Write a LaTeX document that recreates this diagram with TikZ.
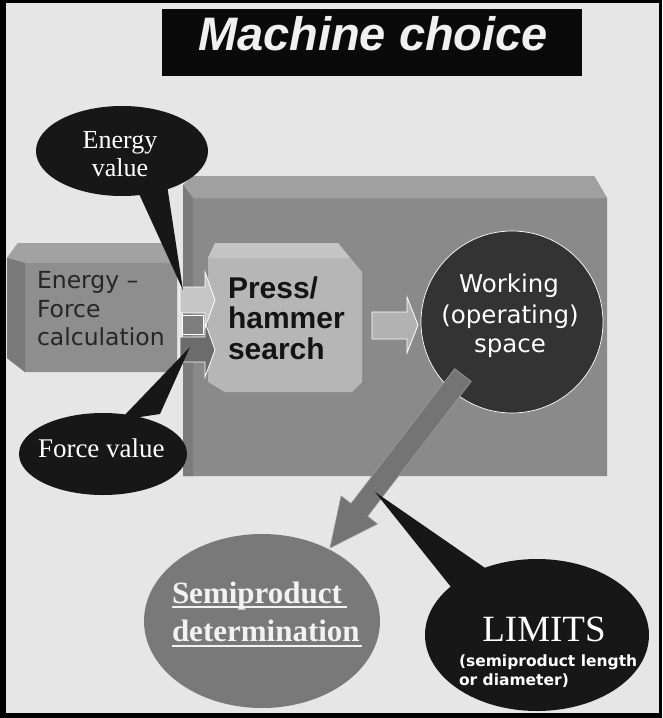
\documentclass[tikz,border=0pt]{standalone}
\usepackage{fontspec}
\setmainfont{Liberation Serif}
\newfontfamily\arialf{Liberation Sans}
\newfontfamily\verdf{DejaVu Sans}
\usetikzlibrary{shapes.geometric}
\definecolor{bg}{HTML}{E6E6E6}
\definecolor{titlebk}{HTML}{0A0A0A}
\definecolor{titletxt}{HTML}{F0F0F0}
\definecolor{boxfront}{HTML}{8A8A8A}
\definecolor{boxtop}{HTML}{A0A0A0}
\definecolor{boxleft}{HTML}{7B7B7B}
\definecolor{effront}{HTML}{8E8E8E}
\definecolor{eftop}{HTML}{A2A2A2}
\definecolor{efleft}{HTML}{7A7A7A}
\definecolor{eftext}{HTML}{262626}
\definecolor{pressfill}{HTML}{B6B6B6}
\definecolor{presstop}{HTML}{C4C4C4}
\definecolor{presstext}{HTML}{141414}
\definecolor{arrlight}{HTML}{C6C6C6}
\definecolor{arrdark}{HTML}{6C6C6C}
\definecolor{arrmid}{HTML}{7E7E7E}
\definecolor{arrwork}{HTML}{B2B2B2}
\definecolor{workfill}{HTML}{333333}
\definecolor{diagfill}{HTML}{747474}
\definecolor{diagline}{HTML}{9A9A9A}
\definecolor{semifill}{HTML}{797979}
\definecolor{callout}{HTML}{171717}
\definecolor{semitext}{HTML}{F2F2F2}
\tikzset{
  blockarrow/.style={draw=white, line width=0.8pt, line join=miter},
  calloutshape/.style={ellipse, fill=callout, inner sep=0pt},
  serifwhite/.style={text=white, font=\fontsize{26}{28}\selectfont},
}
\begin{document}
\begin{tikzpicture}[x=1pt,y=-1pt, every node/.style={inner sep=0pt, outer sep=0pt}]
\useasboundingbox (0,0) rectangle (662,718);
% frame and background
\fill[black] (0,0) rectangle (662,718);
\fill[bg] (6,3) rectangle (659,713);
% title
\node[fill=titlebk, minimum width=420pt, minimum height=67pt, anchor=north west] (titlebox) at (162,9) {};
\node[anchor=base, text=titletxt, font=\arialf\bfseries\itshape\fontsize{47}{50}\selectfont] (title) at (373,50) {Machine choice};
% big 3D box
\fill[boxfront] (183,185) -- (193,176) -- (594,176) -- (607,198) -- (607,476) -- (183,476) -- cycle;
\fill[boxtop] (183,185) -- (193,176) -- (594,176) -- (607,198) -- (193,198) -- cycle;
\fill[boxleft] (183,185) -- (193,198) -- (193,476) -- (183,476) -- cycle;
% Energy-Force box
\fill[effront] (7,258) -- (18,243) -- (167,243) -- (177,258) -- (177,372) -- (25,372) -- (7,358) -- cycle;
\fill[eftop] (7,258) -- (18,243) -- (167,243) -- (177,258) -- (177,263) -- (25,263) -- cycle;
\fill[efleft] (7,258) -- (25,263) -- (25,372) -- (7,358) -- cycle;
% Press box
\fill[pressfill] (208,258) -- (215,243) -- (338,243) -- (362,272) -- (362,382) -- (352,392) -- (225,392) -- (208,382) -- cycle;
\fill[presstop] (208,258) -- (215,243) -- (338,243) -- (350,258) -- cycle;
% small arrows between boxes
\filldraw[blockarrow, fill=arrdark] (180,337) -- (205,337) -- (205,322) -- (215,350) -- (205,377) -- (205,362) -- (180,362) -- cycle;
\filldraw[blockarrow, fill=arrlight] (180,287) -- (205,287) -- (205,272) -- (215,300) -- (205,328) -- (205,313) -- (180,313) -- cycle;
\filldraw[blockarrow, fill=arrmid] (182,315) rectangle (203,334);
% working space circle
\node[circle, minimum size=182pt, fill=workfill, draw=white, line width=0.7pt] (work) at (512,322) {};
% arrow press -> working
\filldraw[blockarrow, fill=arrwork] (372,312) -- (407,312) -- (407,297) -- (418,325) -- (407,353) -- (407,339) -- (372,339) -- cycle;
% diagonal arrow working -> semiproduct
\filldraw[fill=diagfill, draw=diagline, line width=0.6pt] (471.3,381.4) -- (454.7,368.6) -- (351.0,503.5) -- (341.1,495.9) -- (330,548) -- (377.5,523.9) -- (367.6,516.3) -- cycle;
% semiproduct ellipse
\node[ellipse, minimum width=236pt, minimum height=174pt, fill=semifill] (semi) at (262,621) {};
% callouts
\node[calloutshape, minimum width=172pt, minimum height=90pt] (ev) at (122,151) {};
\fill[callout] (135,185) -- (167,185) -- (183,290) -- cycle;
\node[calloutshape, minimum width=168pt, minimum height=82pt] (fv) at (103,454) {};
\fill[callout] (120,420) -- (160,414) -- (190,347) -- cycle;
\node[calloutshape, minimum width=224pt, minimum height=152pt] (lim) at (537,635) {};
\fill[callout] (455,592) -- (488,570) -- (375,492) -- cycle;
% texts
\node[anchor=base, serifwhite] (tenergy) at (120,148) {Energy};
\node[anchor=base, serifwhite] (tvalue) at (120,176) {value};
\node[anchor=base west, text=eftext, font=\verdf\fontsize{23.5}{28}\selectfont] (tef1) at (37,288) {Energy –};
\node[anchor=base west, text=eftext, font=\verdf\fontsize{23.5}{28}\selectfont] (tef2) at (37,317) {Force};
\node[anchor=base west, text=eftext, font=\verdf\fontsize{23.5}{28}\selectfont] (tef3) at (37,345) {calculation};
\node[anchor=base west, text=presstext, font=\arialf\bfseries\fontsize{30}{31}\selectfont] (tp1) at (228,298) {Press/};
\node[anchor=base west, text=presstext, font=\arialf\bfseries\fontsize{30}{31}\selectfont] (tp2) at (228,328) {hammer};
\node[anchor=base west, text=presstext, font=\arialf\bfseries\fontsize{30}{31}\selectfont] (tp3) at (228,359) {search};
\node[anchor=base, text=white, font=\verdf\fontsize{24.5}{30}\selectfont] (tw1) at (509,292) {Working};
\node[anchor=base, text=white, font=\verdf\fontsize{24.5}{30}\selectfont] (tw2) at (510,323) {(operating)};
\node[anchor=base, text=white, font=\verdf\fontsize{24.5}{30}\selectfont] (tw3) at (510,352) {space};
\node[anchor=base west, serifwhite, font=\fontsize{27}{28}\selectfont] (tforce) at (38,457) {Force value};
\node[anchor=base west, text=semitext, font=\bfseries\fontsize{31}{36}\selectfont] (ts1) at (172,603) {Semiproduct};
\node[anchor=base west, text=semitext, font=\bfseries\fontsize{31}{36}\selectfont] (ts2) at (172,641) {determination};
\draw[semitext, line width=1.2pt] (ts1.base west) ++(0,4) coordinate (u1a) -- (347,607) coordinate (u1b);
\draw[semitext, line width=1.2pt] (ts2.base west) ++(0,5) coordinate (u2a) -- (362,646) coordinate (u2b);
\node[anchor=base, text=white, font=\fontsize{37}{40}\selectfont] (tlim) at (544,641) {LIMITS};
\node[anchor=base west, text=white, font=\verdf\bfseries\fontsize{15.5}{19}\selectfont] (tl1) at (459,666) {(semiproduct length};
\node[anchor=base west, text=white, font=\verdf\bfseries\fontsize{15.5}{19}\selectfont] (tl2) at (459,685) {or diameter)};
\end{tikzpicture}
\end{document}
